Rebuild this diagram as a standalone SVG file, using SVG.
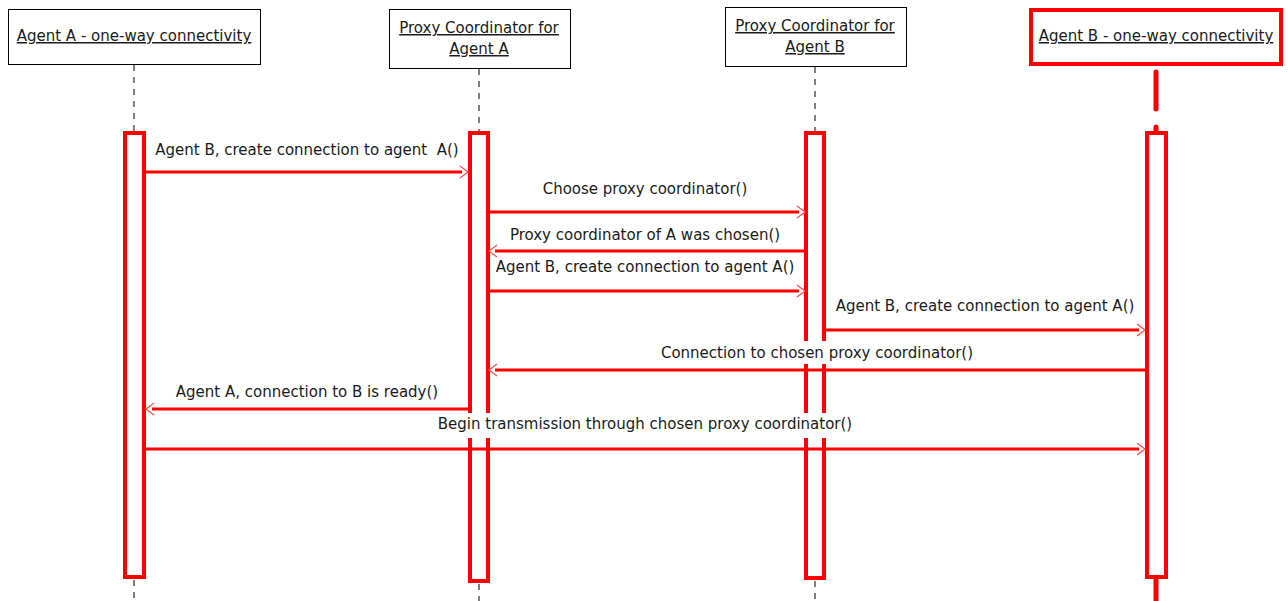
<svg xmlns="http://www.w3.org/2000/svg" width="1288" height="601" viewBox="0 0 1288 601">
<defs>
<style>
text{font-family:"DejaVu Sans","Liberation Sans",Arial,sans-serif;font-size:15px;fill:#1a1a1a;text-anchor:middle}
.u{text-decoration:underline}
.pre{white-space:pre}
.box{fill:#fff;stroke:#000;stroke-width:1}
.rbox{fill:#fff;stroke:#ff0000;stroke-width:4}
.life{stroke:#000;stroke-width:1;stroke-dasharray:6,6;fill:none}
.rlife{stroke:#ff0000;stroke-width:5;stroke-dasharray:37,18;stroke-linecap:round;fill:none}
.act{fill:#fff;stroke:#ff0000;stroke-width:4}
.msg{stroke:#ff0000;stroke-width:3;fill:none}
.head{stroke:#ff5050;stroke-width:1.3;fill:none}
.bg{fill:#fff}
</style>
</defs>
<rect width="1288" height="601" fill="#fff"/>
<g id="agentA">
<rect class="box" x="8.5" y="9.5" width="252" height="55"/>
<text class="u" x="134" y="41">Agent A - one-way connectivity</text>
<line class="life" x1="134" y1="65" x2="134" y2="131"/>
<line class="life" x1="134" y1="580" x2="134" y2="601"/>
<rect class="act" x="125" y="133" width="19" height="444"/>
</g>
<g id="proxyA">
<rect class="box" x="389.5" y="9.5" width="181" height="59"/>
<text class="u" x="479" y="33">Proxy Coordinator for</text>
<text class="u" x="479" y="54">Agent A</text>
<line class="life" x1="479" y1="69" x2="479" y2="131"/>
<line class="life" x1="479" y1="584" x2="479" y2="601"/>
<rect class="act" x="470" y="133" width="18" height="448"/>
</g>
<g id="proxyB">
<rect class="box" x="725.5" y="7.5" width="181" height="59"/>
<text class="u" x="815" y="31">Proxy Coordinator for</text>
<text class="u" x="815" y="52">Agent B</text>
<line class="life" x1="815" y1="67" x2="815" y2="131"/>
<line class="life" x1="815" y1="581" x2="815" y2="601"/>
<rect class="act" x="806" y="133" width="18" height="445"/>
</g>
<g id="agentB">
<rect class="rbox" x="1031" y="10" width="250" height="54"/>
<text class="u" x="1156" y="41">Agent B - one-way connectivity</text>
<line class="rlife" x1="1156" y1="72" x2="1156" y2="160"/>
<line x1="1156" y1="578" x2="1156" y2="601" stroke="#ff0000" stroke-width="5"/>
<rect class="act" x="1147" y="133" width="19" height="444"/>
</g>
<g id="connectors">
<line class="msg" x1="146" y1="172" x2="462" y2="172"/>
<polyline class="head" points="460,166 468,172 460,178"/>
<text class="pre" x="307" y="155">Agent B, create connection to agent  A()</text>

<line class="msg" x1="489" y1="212" x2="799" y2="212"/>
<polyline class="head" points="797,206 805,212 797,218"/>
<text x="645" y="194">Choose proxy coordinator()</text>

<line class="msg" x1="805" y1="251" x2="495" y2="251"/>
<polyline class="head" points="497,245 489,251 497,257"/>
<text x="645" y="240">Proxy coordinator of A was chosen()</text>

<line class="msg" x1="489" y1="291" x2="799" y2="291"/>
<polyline class="head" points="797,285 805,291 797,297"/>
<text x="645" y="272">Agent B, create connection to agent A()</text>

<line class="msg" x1="825" y1="330" x2="1139" y2="330"/>
<polyline class="head" points="1137,324 1145,330 1137,336"/>
<text x="985" y="311">Agent B, create connection to agent A()</text>

<rect class="bg" x="795" y="341" width="40" height="23"/>
<line class="msg" x1="1146" y1="370" x2="495" y2="370"/>
<polyline class="head" points="497,364 489,370 497,376"/>
<text x="817" y="358">Connection to chosen proxy coordinator()</text>

<line class="msg" x1="469" y1="409" x2="152" y2="409"/>
<polyline class="head" points="154,403 146,409 154,415"/>
<text x="307" y="397">Agent A, connection to B is ready()</text>

<rect class="bg" x="460" y="413" width="38" height="25"/>
<rect class="bg" x="795" y="413" width="40" height="25"/>
<line class="msg" x1="146" y1="449" x2="1139" y2="449"/>
<polyline class="head" points="1137,443 1145,449 1137,455"/>
<text x="645" y="429">Begin transmission through chosen proxy coordinator()</text>
</g>
</svg>
